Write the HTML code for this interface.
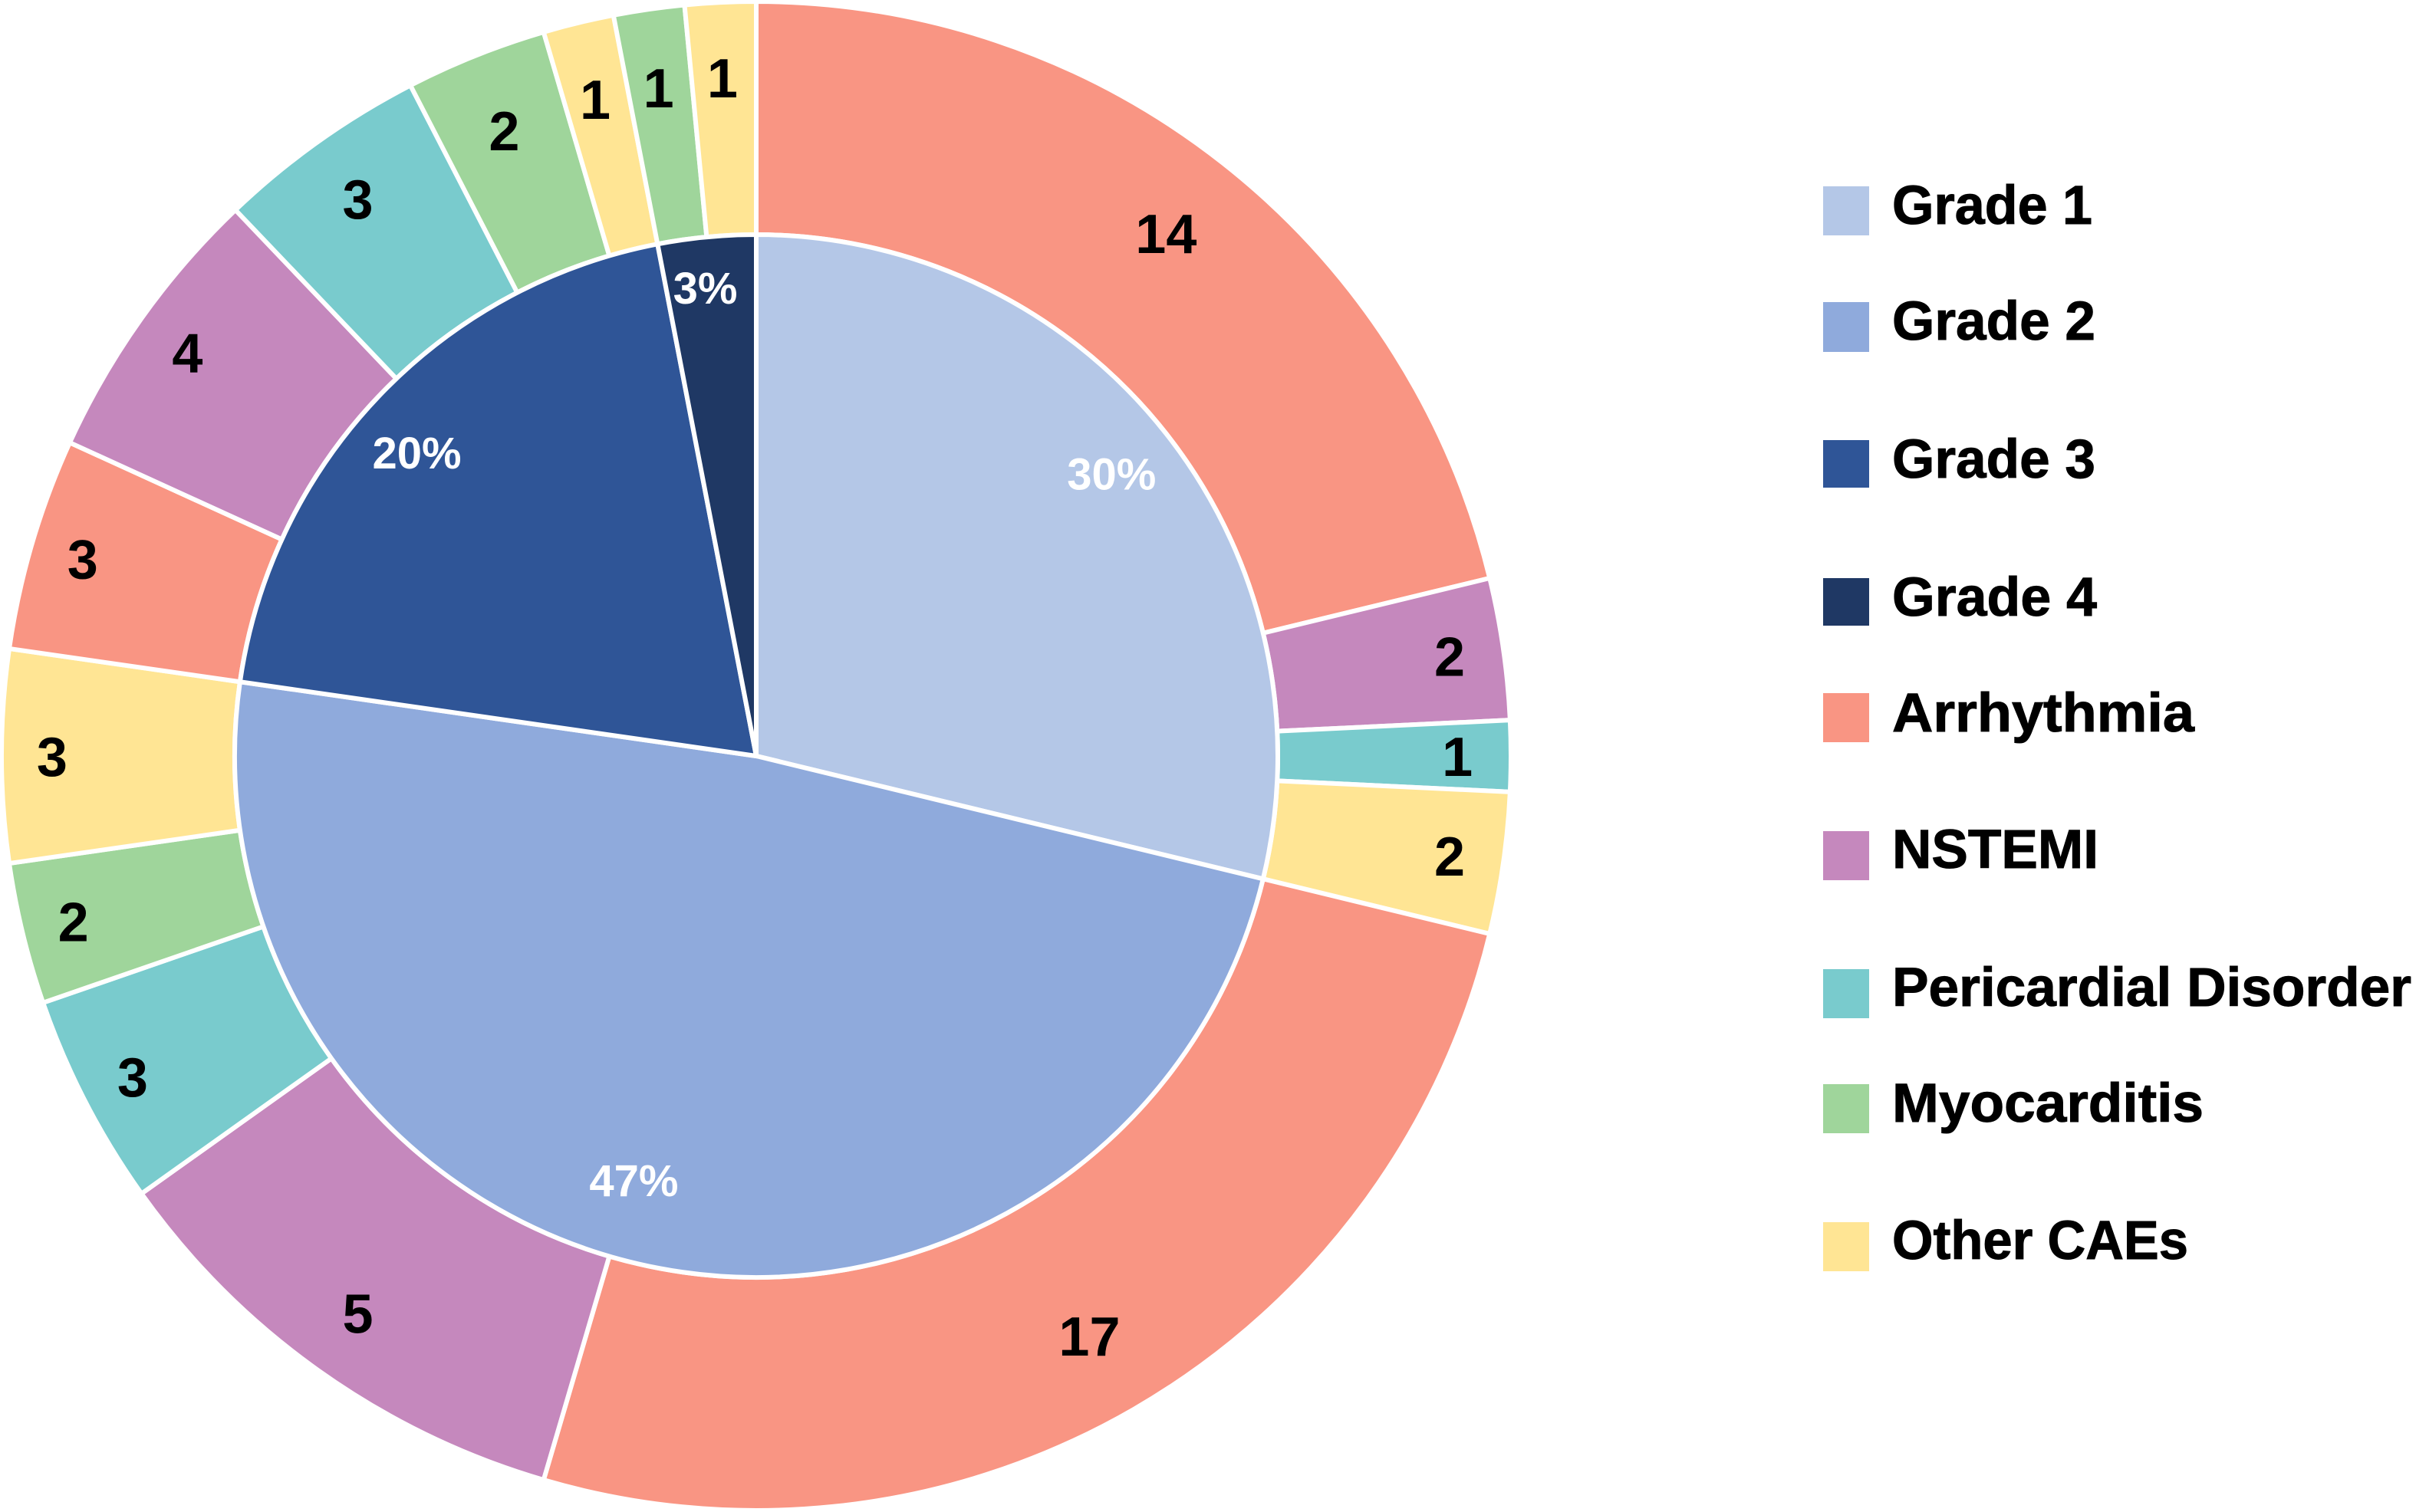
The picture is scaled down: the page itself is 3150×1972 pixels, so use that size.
<!DOCTYPE html>
<html lang="en">
<head>
<meta charset="utf-8">
<title>Cardiac adverse events by grade</title>
<style>
html,body{margin:0;padding:0;background:#fff;}
svg{display:block;}
text{font-family:"Liberation Sans",sans-serif;font-weight:700;}
</style>
</head>
<body>
<svg id="chart" xmlns="http://www.w3.org/2000/svg" width="3150" height="1972" viewBox="0 0 3150 1972">
  <rect width="3150" height="1972" fill="#ffffff"/>
  <g id="outer"></g>
  <g id="inner"></g>
  <g id="labels"></g>
  <g font-size="71" fill="#000000" stroke="#000000" stroke-width="1">
    <g><rect x="2377" y="243" width="60" height="64" fill="#B4C7E7" stroke="none"/><text x="2467" y="292" textLength="261" lengthAdjust="spacingAndGlyphs">Grade 1</text></g>
    <g><rect x="2377" y="394" width="60" height="65" fill="#8FAADC" stroke="none"/><text x="2467" y="443" textLength="265" lengthAdjust="spacingAndGlyphs">Grade 2</text></g>
    <g><rect x="2377" y="574" width="60" height="62" fill="#2F5597" stroke="none"/><text x="2467" y="623" textLength="265" lengthAdjust="spacingAndGlyphs">Grade 3</text></g>
    <g><rect x="2377" y="754" width="60" height="62" fill="#1F3864" stroke="none"/><text x="2467" y="803" textLength="267" lengthAdjust="spacingAndGlyphs">Grade 4</text></g>
    <g><rect x="2377" y="904" width="60" height="64" fill="#F99583" stroke="none"/><text x="2467" y="954" textLength="394" lengthAdjust="spacingAndGlyphs">Arrhythmia</text></g>
    <g><rect x="2377" y="1084" width="60" height="64" fill="#C588BD" stroke="none"/><text x="2467" y="1132" textLength="269" lengthAdjust="spacingAndGlyphs">NSTEMI</text></g>
    <g><rect x="2377" y="1264" width="60" height="64" fill="#79CBCD" stroke="none"/><text x="2467" y="1312" textLength="677" lengthAdjust="spacingAndGlyphs">Pericardial Disorder</text></g>
    <g><rect x="2377" y="1414" width="60" height="64" fill="#9FD59B" stroke="none"/><text x="2467" y="1463" textLength="406" lengthAdjust="spacingAndGlyphs">Myocarditis</text></g>
    <g><rect x="2377" y="1594" width="60" height="64" fill="#FFE594" stroke="none"/><text x="2467" y="1642" textLength="386" lengthAdjust="spacingAndGlyphs">Other CAEs</text></g>
  </g>
</svg>
<script>
// Chart data. Slices start at 12 o'clock and run clockwise.
var innerCategories = ['grade-1', 'grade-2', 'grade-3', 'grade-4'];
var innerValues = [19, 32, 13, 2];
var innerLabels = ['30%', '47%', '20%', '3%'];
var outerCategories = ['arrhythmia', 'nstemi', 'pericardial', 'other', 'arrhythmia', 'nstemi', 'pericardial', 'myocarditis', 'other', 'arrhythmia', 'nstemi', 'pericardial', 'myocarditis', 'other', 'myocarditis', 'other'];
// Slice sizes as drawn; the sixth slice is drawn wider than its printed label.
var outerValues = [14, 2, 1, 2, 17, 7, 3, 2, 3, 3, 4, 3, 2, 1, 1, 1];
var outerLabels = ['14', '2', '1', '2', '17', '5', '3', '2', '3', '3', '4', '3', '2', '1', '1', '1'];

var colorFor = {
  'grade-1': '#B4C7E7', 'grade-2': '#8FAADC', 'grade-3': '#2F5597', 'grade-4': '#1F3864',
  'arrhythmia': '#F99583', 'nstemi': '#C588BD', 'pericardial': '#79CBCD',
  'myocarditis': '#9FD59B', 'other': '#FFE594'
};
var CX = 986, CY = 986, R_OUTER = 984, R_INNER = 680, SCALE = 2.009;
var NS = 'http://www.w3.org/2000/svg';

function sum(a) { return a.reduce(function (s, v) { return s + v; }, 0); }
function angleScale(values) {
  var total = sum(values);
  return function (v) { return v / total * 2 * Math.PI; };
}
function px(r, a) { return CX + r * Math.sin(a); }
function py(r, a) { return CY - r * Math.cos(a); }

function wedgePath(r0, r1, a0, a1) {
  var large = (a1 - a0) > Math.PI ? 1 : 0;
  var d = 'M' + px(r1, a0) + ' ' + py(r1, a0) +
          ' A' + r1 + ' ' + r1 + ' 0 ' + large + ' 1 ' + px(r1, a1) + ' ' + py(r1, a1);
  if (r0 > 0) {
    d += ' L' + px(r0, a1) + ' ' + py(r0, a1) +
         ' A' + r0 + ' ' + r0 + ' 0 ' + large + ' 0 ' + px(r0, a0) + ' ' + py(r0, a0) + ' Z';
  } else {
    d += ' L' + CX + ' ' + CY + ' Z';
  }
  return d;
}

function addLabel(str, r, a, size, fill, name, dy, dx) {
  var t = document.createElementNS(NS, 'text');
  
  
  t.setAttribute('x', px(r, a) + dx);
  t.setAttribute('y', py(r, a));
  t.setAttribute('dy', dy);
  t.setAttribute('text-anchor', 'middle');
  t.setAttribute('font-size', size);
  t.setAttribute('fill', fill);
  t.textContent = str;
  document.getElementById('labels').appendChild(t);
}

function drawRing(groupId, values, categories, r0, r1, prefix) {
  var scale = angleScale(values), a = 0, g = document.getElementById(groupId), mids = [];
  values.forEach(function (v, i) {
    var a1 = a + scale(v);
    var p = document.createElementNS(NS, 'path');
    
    
    p.setAttribute('d', wedgePath(r0, r1, a, a1));
    p.setAttribute('fill', colorFor[categories[i]]);
    p.setAttribute('stroke', '#ffffff');
    p.setAttribute('stroke-width', '6');
    p.setAttribute('stroke-linejoin', 'miter');
    g.appendChild(p);
    mids.push((a + a1) / 2);
    a = a1;
  });
  return mids;
}

var outerMids = drawRing('outer', outerValues, outerCategories, R_INNER, R_OUTER, 'outer');
var innerMids = drawRing('inner', innerValues, innerCategories, 0, R_INNER, 'inner');

// Small per-label placement tweaks, matching where the source printed each label.
var outerLabelRadialNudge = [-5, 0, 0, 0, 0, 0, 2, 0, 0, 0, 2, 0, -3, 0, 0, 3];
outerLabels.forEach(function (str, i) {
  var a = outerMids[i], s = Math.sin(a);
  var r = (438 + 18 * s * s - (str.length > 1 ? 8 : 0) + outerLabelRadialNudge[i]) * SCALE;
  addLabel(str, r, a, 72, '#000000', 'outer-label-' + (i + 1), '0.36em', -2);
});

var innerLabelAngleNudge = [0, 5, -2, -0.7];
var innerLabelRadialNudge = [0, -6, 0, 10];
innerLabels.forEach(function (str, i) {
  var a = innerMids[i] + innerLabelAngleNudge[i] * Math.PI / 180;
  addLabel(str, (294 + innerLabelRadialNudge[i]) * SCALE, a, 58, '#ffffff', 'inner-label-' + innerCategories[i], '0.3em', -1);
});
</script>
</body>
</html>
